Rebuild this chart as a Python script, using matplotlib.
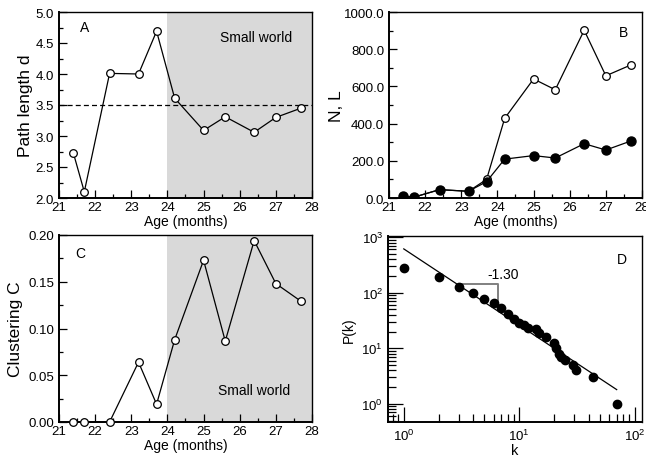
import matplotlib
matplotlib.use('Agg')
import matplotlib.pyplot as plt
from matplotlib.ticker import MultipleLocator, FormatStrFormatter, LogLocator

plt.rcParams['font.family'] = ['Liberation Sans', 'DejaVu Sans']
plt.rcParams['mathtext.default'] = 'regular'

# ages of the sampled networks (months)
age = [21.4, 21.7, 22.4, 23.2, 23.7, 24.2, 25.0, 25.6, 26.4, 27.0, 27.7]
path_d = [2.72, 2.10, 4.01, 4.00, 4.69, 3.61, 3.09, 3.31, 3.06, 3.30, 3.45]
links_L = [10, 5, 45, 36, 100, 428, 640, 582, 902, 657, 716]
nodes_N = [10, 5, 45, 36, 88, 209, 228, 215, 292, 258, 307]
clustering = [0, 0, 0, 0.064, 0.019, 0.088, 0.173, 0.0865, 0.194, 0.148, 0.129]

# degree distribution
deg_k = [1, 2, 3, 4, 5, 6, 7, 8, 9, 10, 11, 12, 14, 15, 17, 20, 21, 22, 23, 25, 29, 31, 44, 70]
deg_pk = [280, 192, 128, 100, 76, 64, 52, 41, 34, 28.5, 26, 23.6, 22.3, 18.7, 16.2,
          12.2, 10.2, 7.9, 6.9, 6.2, 5.0, 4.1, 3.0, 1.0]
fit_k = [1, 70]
fit_pk = [615, 1.8]
tri_k = [3, 6.6, 6.6]
tri_pk = [142, 142, 50]

small_world_start = 24
W, H = 646, 460
fig = plt.figure(figsize=(W / 100, H / 100), dpi=100)


def box(l, t, r, b):
    return [l / W, 1 - b / H, (r - l) / W, (b - t) / H]


axA = fig.add_axes(box(59, 13, 312, 199))
axB = fig.add_axes(box(389, 13, 642, 199))
axC = fig.add_axes(box(59, 236, 312, 423))
axD = fig.add_axes(box(388, 237, 642, 423))

open_style = dict(color='k', lw=0.9, marker='o', ms=5.5, mfc='white', mec='k', mew=0.9)
fill_style = dict(color='k', lw=0.9, marker='o', ms=6.5, mfc='k', mec='k')


def style_age_axis(ax):
    ax.set_xlim(21, 28)
    ax.xaxis.set_major_locator(MultipleLocator(1))
    ax.xaxis.set_minor_locator(MultipleLocator(0.5))
    ax.tick_params(which='both', direction='in', labelsize=9.5, top=False, right=False)
    ax.tick_params(which='major', length=6, width=0.9)
    ax.tick_params(which='minor', length=3, width=0.9)
    ax.tick_params(axis='x', pad=2)
    ax.set_xlabel('Age (months)', fontsize=10, labelpad=1)
    for s in ax.spines.values():
        s.set_linewidth(1.0)
    ax.spines['left'].set_linewidth(1.4)
    ax.spines['bottom'].set_linewidth(1.4)


# A: path length
axA.axvspan(small_world_start, 28, color='#d9d9d9', lw=0, zorder=0)
axA.axhline(3.5, color='k', ls=(0, (4, 2.5)), lw=0.9, zorder=1)
axA.plot(age, path_d, zorder=3, **open_style)
axA.set_ylim(2.0, 5.0)
axA.yaxis.set_major_locator(MultipleLocator(0.5))
axA.yaxis.set_minor_locator(MultipleLocator(0.25))
axA.yaxis.set_major_formatter(FormatStrFormatter('%.1f'))
axA.set_ylabel('Path length d', fontsize=12.5, labelpad=2)
axA.text(21.72, 4.75, 'A', fontsize=10, ha='center', va='center')
axA.text(26.45, 4.6, 'Small world', fontsize=10, ha='center', va='center')
style_age_axis(axA)

# B: nodes and links
axB.plot(age, links_L, zorder=3, **open_style)
axB.plot(age, nodes_N, zorder=4, **fill_style)
axB.set_ylim(0, 1000)
axB.yaxis.set_major_locator(MultipleLocator(200))
axB.yaxis.set_minor_locator(MultipleLocator(100))
axB.yaxis.set_major_formatter(FormatStrFormatter('%.1f'))
axB.set_ylabel('N, L', fontsize=12.5, labelpad=0)
axB.text(27.5, 891, 'B', fontsize=10, ha='center', va='center')
style_age_axis(axB)

# C: clustering
axC.axvspan(small_world_start, 28, color='#d9d9d9', lw=0, zorder=0)
axC.plot(age, clustering, zorder=3, clip_on=False, **open_style)
axC.set_ylim(0, 0.20)
axC.yaxis.set_major_locator(MultipleLocator(0.05))
axC.yaxis.set_minor_locator(MultipleLocator(0.025))
axC.yaxis.set_major_formatter(FormatStrFormatter('%.2f'))
axC.set_ylabel('Clustering C', fontsize=12.5, labelpad=4)
axC.text(21.58, 0.181, 'C', fontsize=10, ha='center', va='center')
axC.text(26.4, 0.034, 'Small world', fontsize=10, ha='center', va='center')
style_age_axis(axC)

# D: degree distribution
axD.set_xscale('log')
axD.set_yscale('log')
axD.plot(fit_k, fit_pk, color='k', lw=0.9)
axD.plot(tri_k, tri_pk, color='#808080', lw=1.4)
axD.plot(deg_k, deg_pk, ls='none', marker='o', ms=6, mfc='k', mec='k', zorder=3)
axD.set_xlim(0.73, 116)
axD.set_ylim(0.47, 1050)
axD.xaxis.set_major_locator(LogLocator(base=10, numticks=10))
axD.yaxis.set_major_locator(LogLocator(base=10, numticks=10))
axD.xaxis.set_minor_locator(LogLocator(base=10, subs=range(2, 10), numticks=10))
axD.yaxis.set_minor_locator(LogLocator(base=10, subs=range(2, 10), numticks=10))
axD.tick_params(which='both', direction='in', labelsize=9.5, top=False, right=False)
axD.tick_params(which='major', length=11, width=0.9)
axD.tick_params(which='minor', length=6, width=0.9)
axD.tick_params(axis='x', pad=4)
for s in axD.spines.values():
    s.set_linewidth(1.0)
axD.spines['left'].set_linewidth(1.4)
axD.spines['bottom'].set_linewidth(1.4)
axD.set_xlabel('k', fontsize=10.5, labelpad=0)
axD.set_ylabel('P(k)', fontsize=10, labelpad=4)
axD.text(7.2, 215, '-1.30', fontsize=10, ha='center', va='center')
axD.text(77, 405, 'D', fontsize=10, ha='center', va='center')

fig.savefig('out.png', dpi=100)
